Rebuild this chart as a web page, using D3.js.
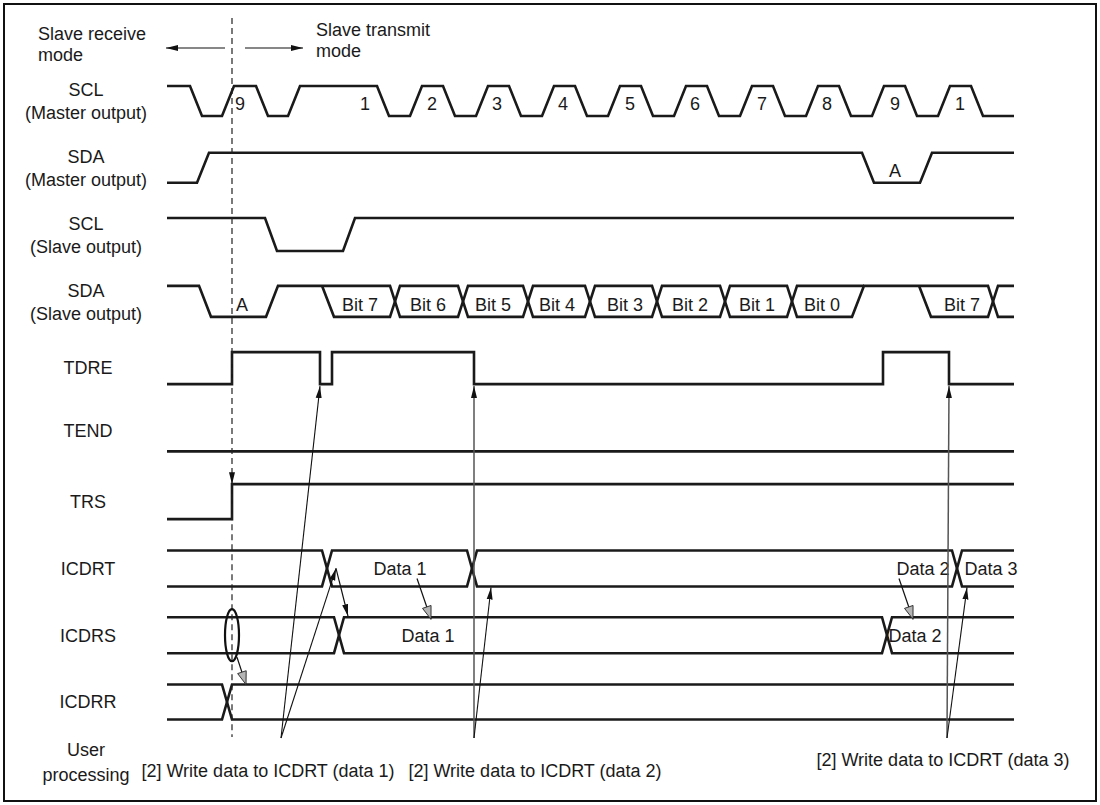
<!DOCTYPE html>
<html>
<head>
<meta charset="utf-8">
<script src="https://cdn.jsdelivr.net/npm/d3@7/dist/d3.min.js"></script>
<style>
  body { margin: 0; background: #fff; }
  text { font-family: "Liberation Sans", Arial, sans-serif; font-size: 18px; fill: #1a1a1a; }
</style>
</head>
<body>
<div class="graph"></div>
<script>
let w = 1100;
let h = 805;

// rows, top to bottom
let signalNames = ["SCL", "SDA", "SCL", "SDA", "TDRE", "TEND", "TRS", "ICDRT", "ICDRS", "ICDRR"];
let signalSubs = ["(Master output)", "(Master output)", "(Slave output)", "(Slave output)", "", "", "", "", "", ""];

// H = high, L = low, D = data on the bus; edges = time at which each change starts
let sclMasterLevels = ["H","L","H","L","H","L","H","L","H","L","H","L","H","L","H","L","H","L","H","L","H","L","H","L"];
let sclMasterEdges = [190, 222, 256, 288, 377, 410, 443, 476, 509, 542, 575, 608, 641, 674, 707, 740, 773, 806, 839, 872, 905, 938, 971];
let sclMasterTags = [[240, "9"], [365, "1"], [432, "2"], [497, "3"], [563, "4"], [630, "5"], [695, "6"], [762, "7"], [827, "8"], [895, "9"], [960, "1"]];

let sdaMasterLevels = ["L", "H", "L", "H"];
let sdaMasterEdges = [197, 862, 920];
let sdaMasterTags = [[895, "A"]];

let sclSlaveLevels = ["H", "L", "H"];
let sclSlaveEdges = [265, 343];

let sdaSlaveLevels = ["H", "L", "H", "D", "D", "D", "D", "D", "D", "D", "D", "H", "D", "D"];
let sdaSlaveEdges = [199, 266, 322, 390, 458, 523, 585, 652, 720, 787, 852, 919, 988];
let sdaSlaveTags = [[242, "A"], [360, "Bit 7"], [428, "Bit 6"], [493, "Bit 5"], [557, "Bit 4"], [625, "Bit 3"], [690, "Bit 2"], [757, "Bit 1"], [822, "Bit 0"], [962, "Bit 7"]];

let tdreLevels = ["L", "H", "L", "H", "L", "H", "L"];
let tdreEdges = [232, 320, 332, 474, 883, 949];

let tendLevels = ["L"];
let tendEdges = [];

let trsLevels = ["L", "H"];
let trsEdges = [232];

let icdrtLevels = ["D", "D", "D", "D"];
let icdrtEdges = [322, 467, 952];
let icdrtTags = [[400, "Data 1"], [923, "Data 2"], [991, "Data 3"]];

let icdrsLevels = ["D", "D", "D"];
let icdrsEdges = [334, 882];
let icdrsTags = [[428, "Data 1"], [915, "Data 2"]];

let icdrrLevels = ["D", "D"];
let icdrrEdges = [222];

// user processing: write time, label centre, TDRE edge hit, ICDRT point hit
let writeLabels = ["[2] Write data to ICDRT (data 1)", "[2] Write data to ICDRT (data 2)", "[2] Write data to ICDRT (data 3)"];
let writeTimes = [281, 474, 947];
let writeLabelAt = [268, 535, 943];
let writeTdreAt = [320, 474, 949];
let writeIcdrtAt = [336, 491, 967];

let modeSwitch = 232;

let signals = [
  { levels: sclMasterLevels, edges: sclMasterEdges, tags: sclMasterTags },
  { levels: sdaMasterLevels, edges: sdaMasterEdges, tags: sdaMasterTags },
  { levels: sclSlaveLevels, edges: sclSlaveEdges, tags: [] },
  { levels: sdaSlaveLevels, edges: sdaSlaveEdges, tags: sdaSlaveTags },
  { levels: tdreLevels, edges: tdreEdges, tags: [] },
  { levels: tendLevels, edges: tendEdges, tags: [] },
  { levels: trsLevels, edges: trsEdges, tags: [] },
  { levels: icdrtLevels, edges: icdrtEdges, tags: icdrtTags },
  { levels: icdrsLevels, edges: icdrsEdges, tags: icdrsTags },
  { levels: icdrrLevels, edges: icdrrEdges, tags: [] }
];

// layout
let halfH = [15, 15, 16.5, 15.5, 16, 16.5, 17.5, 18, 18, 17.5];
let slopeW = [12, 12, 12, 12, 0, 0, 0, 10, 10, 10];
let crossW = 10;
let userY = 738;
let writeLabelY = [771, 771, 760];

let svg = d3.select(".graph").append("svg").attr("width", w).attr("height", h);

let x = d3.scaleLinear().domain([167, 1014]).range([167, 1014]);
let row = d3.scalePoint().domain(d3.range(signalNames.length)).range([101, 702]);

function yAt(i, where) {
  if (where == "top") return row(i) - halfH[i];
  if (where == "bot") return row(i) + halfH[i];
  return row(i);
}

let defs = svg.append("defs");
defs.append("marker")
  .attr("id", "headB")
  .attr("viewBox", "0 0 12 8")
  .attr("refX", 12).attr("refY", 4)
  .attr("markerWidth", 12).attr("markerHeight", 8)
  .attr("markerUnits", "userSpaceOnUse")
  .attr("orient", "auto")
  .append("path").attr("d", "M0,1 L12,4 L0,7 Z").attr("fill", "#111");
defs.append("marker")
  .attr("id", "headG")
  .attr("viewBox", "-1 -1 15 12")
  .attr("refX", 13).attr("refY", 5)
  .attr("markerWidth", 15).attr("markerHeight", 12)
  .attr("markerUnits", "userSpaceOnUse")
  .attr("orient", "auto")
  .append("path").attr("d", "M0,0.5 L13,5 L0,9.5 Z")
  .attr("fill", "#b4b4b4").attr("stroke", "#333").attr("stroke-width", 0.9);

// frame
svg.append("rect")
  .attr("x", 4).attr("y", 4)
  .attr("width", w - 8).attr("height", h - 8)
  .attr("fill", "none").attr("stroke", "#111").attr("stroke-width", 2);

// row labels
signalNames.forEach(function (name, i) {
  let c = row(i);
  if (signalSubs[i]) {
    svg.append("text").attr("x", 86).attr("y", c - 11).attr("dy", "0.35em")
      .attr("text-anchor", "middle").text(name);
    svg.append("text").attr("x", 86).attr("y", c + 12).attr("dy", "0.35em")
      .attr("text-anchor", "middle").text(signalSubs[i]);
  } else {
    svg.append("text").attr("x", 88).attr("y", name == "TEND" ? c - 4 : c).attr("dy", "0.35em")
      .attr("text-anchor", "middle").text(name);
  }
});
svg.append("text").attr("x", 86).attr("y", 750).attr("dy", "0.35em").attr("text-anchor", "middle").text("User");
svg.append("text").attr("x", 86).attr("y", 775).attr("dy", "0.35em").attr("text-anchor", "middle").text("processing");

// waveforms
let line = d3.line().x(function (d) { return x(d[0]); }).y(function (d) { return d[1]; });

signals.forEach(function (sig, i) {
  let top = yAt(i, "top"), bot = yAt(i, "bot");
  let lv = sig.levels, ed = sig.edges, n = lv.length;
  let segs = [];
  function wOf(k) { return lv[k] == "D" && lv[k + 1] == "D" ? crossW : slopeW[i]; }
  function yOf(v) { return v == "H" ? top : bot; }
  for (let k = 0; k < n; k++) {
    let s = k == 0 ? x.domain()[0] : ed[k - 1] + wOf(k - 1);
    let e = k == n - 1 ? x.domain()[1] : ed[k];
    if (lv[k] == "D") {
      segs.push([[s, top], [e, top]], [[s, bot], [e, bot]]);
    } else {
      segs.push([[s, yOf(lv[k])], [e, yOf(lv[k])]]);
    }
    if (k < n - 1) {
      let a = lv[k], b = lv[k + 1], x0 = ed[k], x1 = ed[k] + wOf(k);
      if (a == "D" && b == "D") {
        segs.push([[x0, top], [x1, bot]], [[x0, bot], [x1, top]]);
      } else if (a == "D") {
        segs.push([[x0, top], [x1, yOf(b)]], [[x0, bot], [x1, yOf(b)]]);
      } else if (b == "D") {
        segs.push([[x0, yOf(a)], [x1, top]], [[x0, yOf(a)], [x1, bot]]);
      } else {
        segs.push([[x0, yOf(a)], [x1, yOf(b)]]);
      }
    }
  }
  // join touching segments into strokes
  let strokes = [];
  segs.forEach(function (sg) {
    let hit = strokes.find(function (st) {
      let p = st[st.length - 1];
      return Math.abs(p[0] - sg[0][0]) < 0.01 && Math.abs(p[1] - sg[0][1]) < 0.01;
    });
    if (hit) hit.push(sg[1]);
    else strokes.push([sg[0], sg[1]]);
  });
  svg.append("g").selectAll("path")
    .data(strokes)
    .enter()
    .append("path")
    .attr("d", line)
    .attr("fill", "none")
    .attr("stroke", "#1a1a1a")
    .attr("stroke-width", 2.6)
    .attr("stroke-linejoin", "miter")
    .attr("stroke-miterlimit", 3);

  svg.append("g").selectAll("text")
    .data(sig.tags)
    .enter()
    .append("text")
    .attr("x", function (d) { return x(d[0]); })
    .attr("y", row(i) + (i < 4 ? 3 : 0))
    .attr("dy", "0.35em")
    .attr("text-anchor", "middle")
    .text(function (d) { return d[1]; });
});

// mode arrows
svg.append("text").attr("x", 38).attr("y", 34).attr("dy", "0.35em").text("Slave receive");
svg.append("text").attr("x", 38).attr("y", 55).attr("dy", "0.35em").text("mode");
svg.append("text").attr("x", 316).attr("y", 30).attr("dy", "0.35em").text("Slave transmit");
svg.append("text").attr("x", 316).attr("y", 51).attr("dy", "0.35em").text("mode");
svg.append("line").attr("x1", x(modeSwitch) - 7).attr("x2", 166).attr("y1", 48).attr("y2", 48)
  .attr("stroke", "#111").attr("stroke-width", 1.2).attr("marker-end", "url(#headB)");
svg.append("line").attr("x1", x(modeSwitch) + 13).attr("x2", 303).attr("y1", 48).attr("y2", 48)
  .attr("stroke", "#111").attr("stroke-width", 1.2).attr("marker-end", "url(#headB)");

// dashed mode-switch line
svg.append("line").attr("x1", x(modeSwitch)).attr("x2", x(modeSwitch)).attr("y1", 18).attr("y2", yAt(6, "top"))
  .attr("stroke", "#222").attr("stroke-width", 1.2).attr("stroke-dasharray", "6,4")
  .attr("marker-end", "url(#headB)");
svg.append("line").attr("x1", x(modeSwitch)).attr("x2", x(modeSwitch)).attr("y1", yAt(6, "top")).attr("y2", 737)
  .attr("stroke", "#222").attr("stroke-width", 1.2).attr("stroke-dasharray", "6,4");

// ICDRS -> ICDRR copy mark
svg.append("ellipse").attr("cx", x(modeSwitch)).attr("cy", row(8)).attr("rx", 7).attr("ry", 26)
  .attr("fill", "none").attr("stroke", "#111").attr("stroke-width", 2.2);

function arrow(t1, y1, t2, y2, head, color, width) {
  svg.append("line")
    .attr("x1", x(t1)).attr("y1", y1).attr("x2", x(t2)).attr("y2", y2)
    .attr("stroke", color).attr("stroke-width", width)
    .attr("marker-end", "url(#" + head + ")");
}

arrow(237, yAt(8, "bot") + 4, 246, yAt(9, "top"), "headG", "#111", 1.2);
arrow(336, row(7), 348, yAt(8, "top") - 1, "headB", "#111", 1.2);
arrow(417, row(7) + 10, 431, yAt(8, "top") + 2, "headG", "#111", 1.2);
arrow(899, row(7) + 10, 913, yAt(8, "top") + 2, "headG", "#111", 1.2);

// user processing writes
writeTimes.forEach(function (t, k) {
  let vertical = Math.abs(writeTdreAt[k] - t) < 3;
  arrow(t, userY, writeTdreAt[k], yAt(4, "bot") + 2, "headB", vertical ? "#555" : "#111", vertical ? 1.5 : 1.1);
  arrow(t, userY, writeIcdrtAt[k], k == 0 ? row(7) : yAt(7, "bot") + 1, "headB", "#111", 1.1);
  svg.append("text")
    .attr("x", writeLabelAt[k]).attr("y", writeLabelY[k]).attr("dy", "0.35em")
    .attr("text-anchor", "middle")
    .text(writeLabels[k]);
});
</script>
</body>
</html>
